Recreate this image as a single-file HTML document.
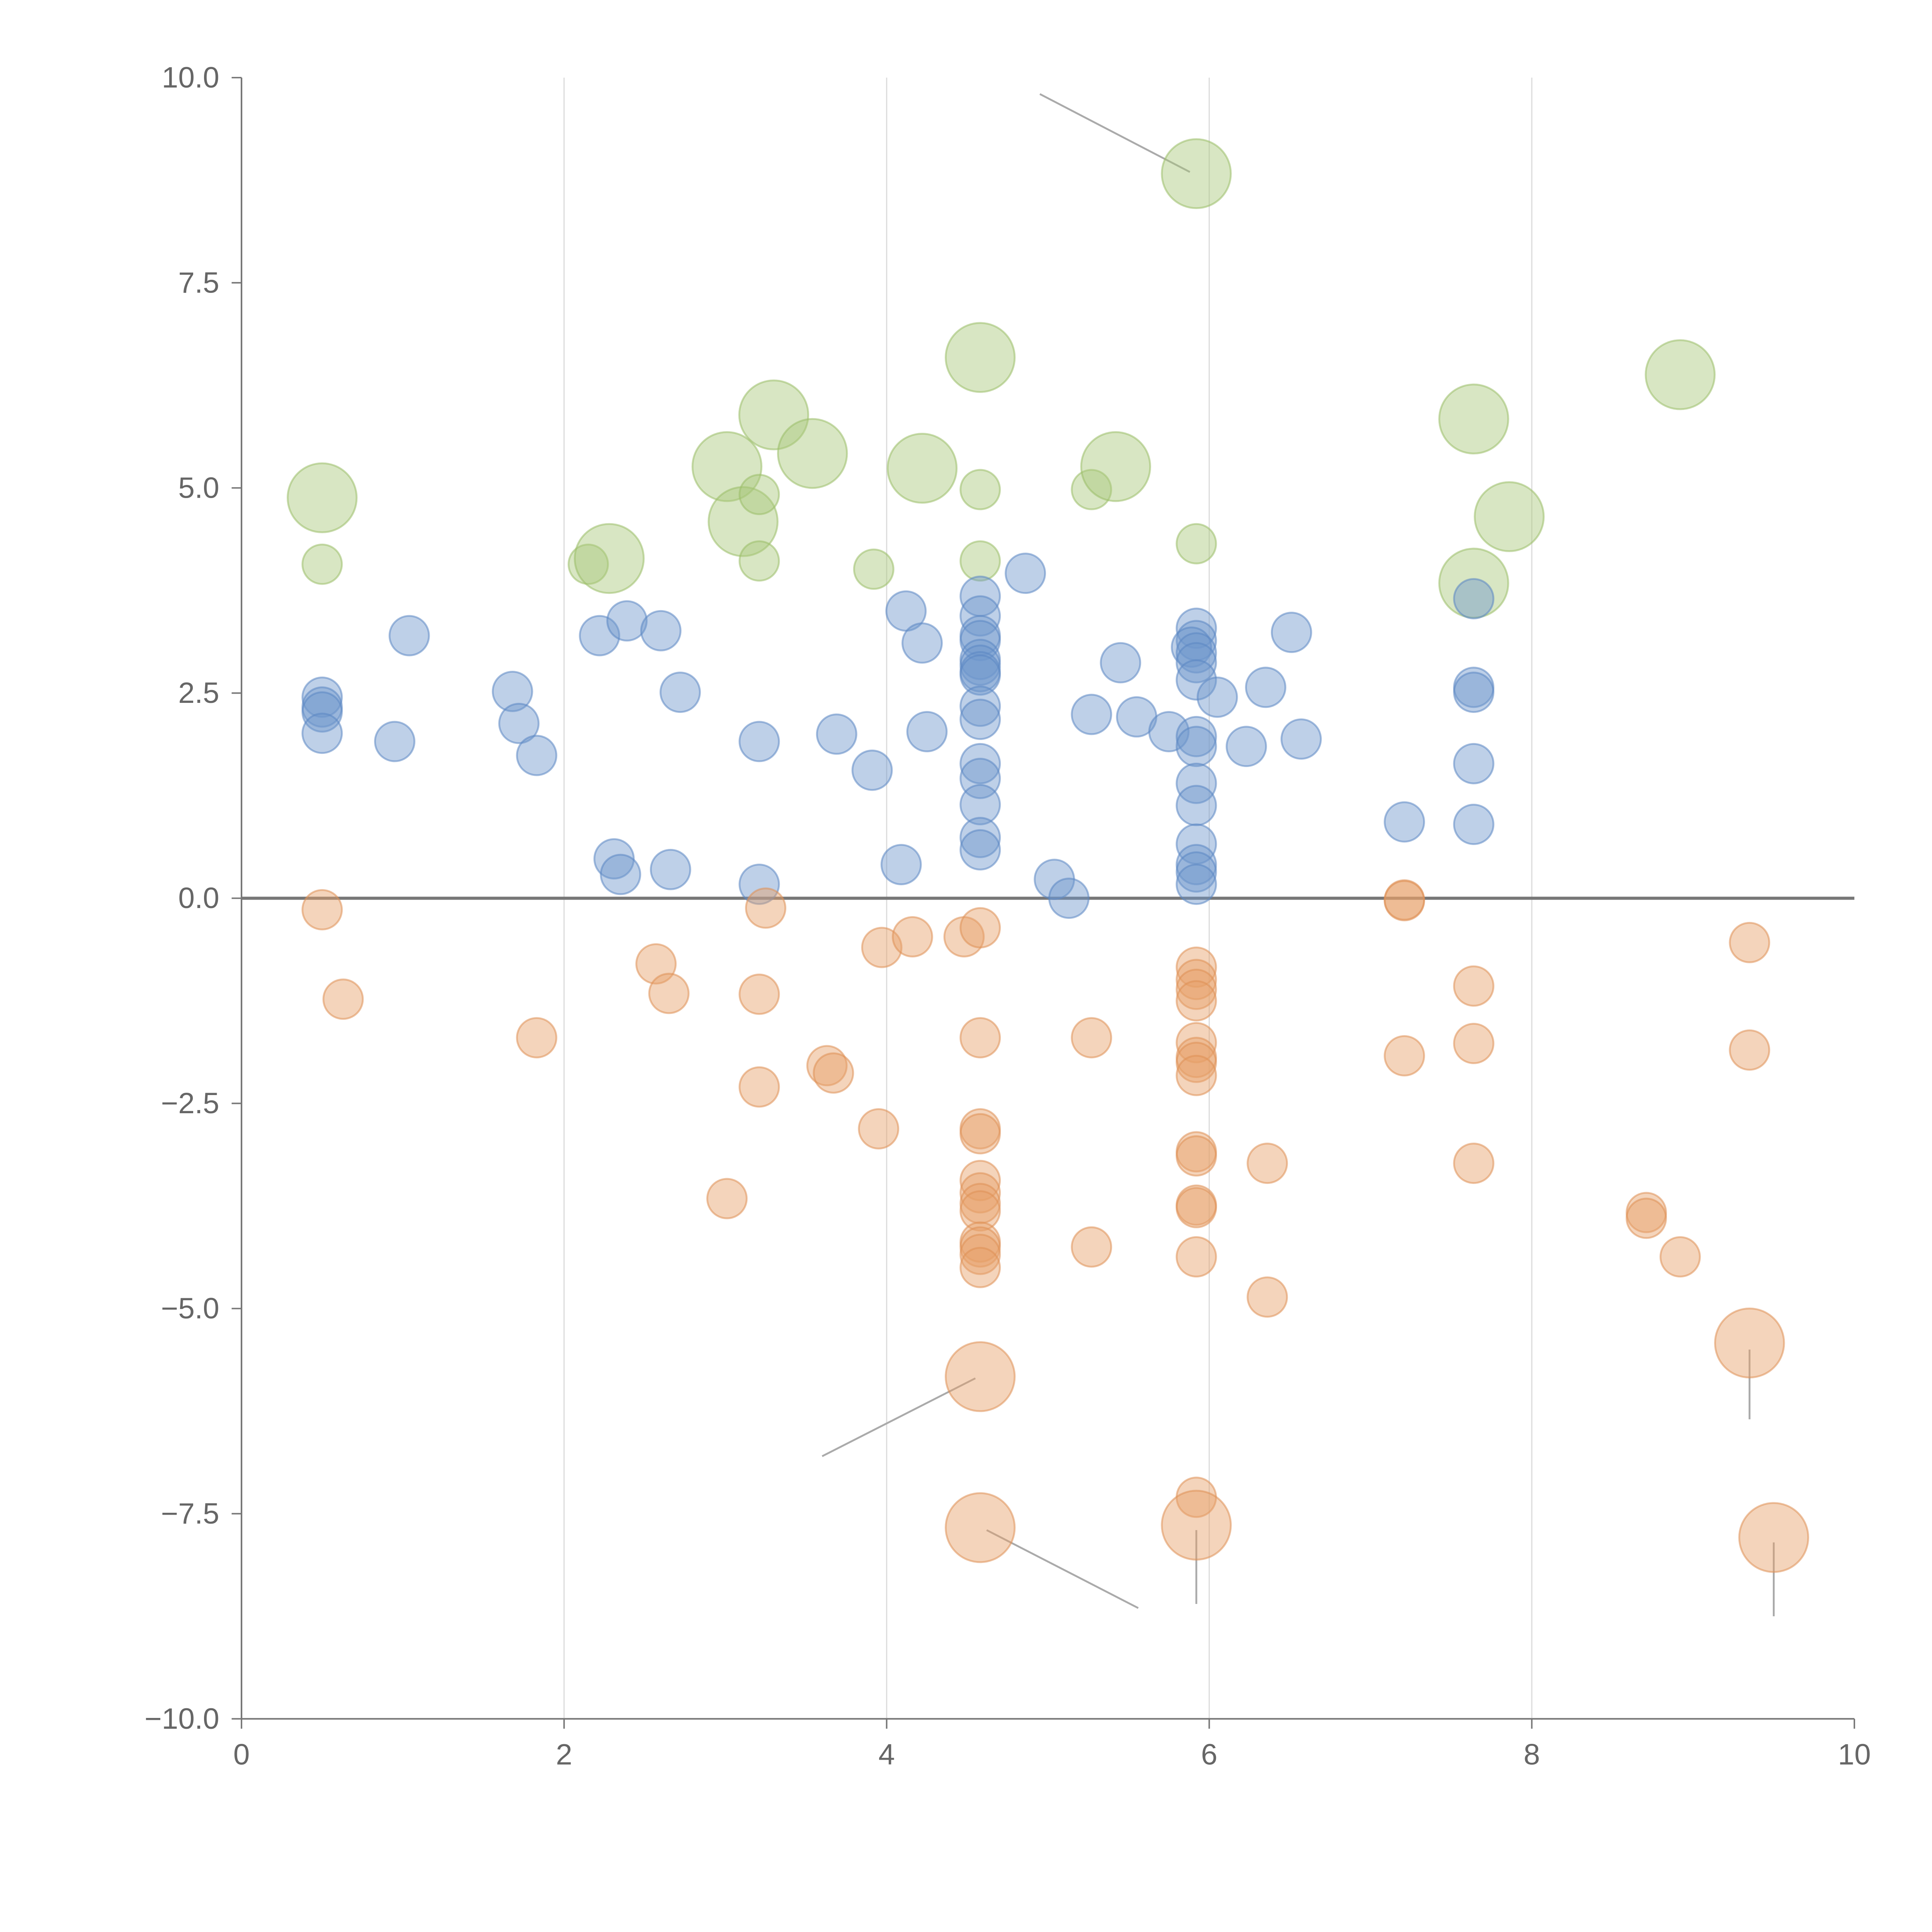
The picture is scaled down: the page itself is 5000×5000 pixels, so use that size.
<!DOCTYPE html>
<html><head><meta charset="utf-8"><style>
html,body{margin:0;padding:0;background:#fff;}
svg{display:block;}
text{font-family:"Liberation Sans",sans-serif;fill:#666;font-size:24px;}
</style></head><body>
<svg id="chart" width="5000" height="5000" viewBox="0 0 1568 1568" xmlns="http://www.w3.org/2000/svg">
<g id="grid"></g>
<g id="axes"></g>
<g id="annotations"></g>
<g id="marks"></g>
</svg>
<script>
const xTicks=[0,2,4,6,8,10];
const yTicks=[-10,-7.5,-5,-2.5,0,2.5,5,7.5,10];
const yTickLabels=["\u221210.0","\u22127.5","\u22125.0","\u22122.5","0.0","2.5","5.0","7.5","10.0"];
const blueX=[0.50,0.50,0.50,0.50,0.95,1.04,1.68,1.72,1.83,2.22,2.39,2.60,2.72,2.31,2.35,2.66,3.21,3.21,3.69,3.91,4.09,4.12,4.22,4.25,4.86,4.58,4.58,4.58,4.58,4.58,4.58,4.58,4.58,4.58,4.58,4.58,4.58,4.58,4.58,4.58,5.04,5.13,5.27,5.45,5.55,5.75,5.92,5.92,5.89,5.92,5.92,5.92,5.92,5.92,5.92,5.92,5.92,5.92,5.92,5.92,6.05,6.23,6.35,6.51,6.57,7.21,7.64,7.64,7.64,7.64,7.64];
const blueY=[2.45,2.33,2.27,2.01,1.91,3.20,2.52,2.13,1.74,3.20,3.38,3.26,2.51,0.48,0.29,0.35,1.91,0.17,2.00,1.56,0.41,3.50,3.11,2.03,3.96,3.68,3.44,3.20,3.14,2.91,2.84,2.76,2.72,2.34,2.18,1.64,1.46,1.14,0.74,0.59,0.23,0.00,2.24,2.87,2.21,2.03,3.29,3.14,3.06,2.99,2.87,2.66,1.97,1.85,1.40,1.13,0.66,0.41,0.32,0.17,2.45,1.85,2.57,3.24,1.94,0.93,3.65,2.57,2.51,1.64,0.90];
const orangeX=[0.50,0.63,1.83,2.57,2.65,3.21,3.21,3.25,3.01,3.63,3.67,3.95,3.97,4.16,4.48,4.58,4.58,4.58,4.58,4.58,4.58,4.58,4.58,4.58,4.58,4.58,4.58,4.58,4.58,5.27,5.27,5.92,5.92,5.92,5.92,5.92,5.92,5.92,5.92,5.92,5.92,5.92,5.92,5.92,5.92,5.92,6.36,6.36,7.21,7.21,7.21,7.64,7.64,7.64,8.71,8.71,8.92,9.35,9.35,9.35,9.50];
const orangeY=[-0.14,-1.23,-1.70,-0.80,-1.16,-1.17,-2.30,-0.12,-3.66,-2.04,-2.13,-2.81,-0.60,-0.47,-0.47,-0.36,-1.70,-2.81,-2.87,-3.44,-3.59,-3.72,-3.81,-4.19,-4.25,-4.34,-4.50,-5.83,-7.67,-1.70,-4.25,-0.84,-0.99,-1.11,-1.25,-1.76,-1.94,-2.00,-2.16,-3.09,-3.14,-3.74,-3.77,-4.37,-7.30,-7.64,-3.23,-4.86,-0.02,-0.03,-1.92,-1.07,-1.77,-3.23,-3.83,-3.90,-4.37,-0.54,-1.85,-5.42,-7.79];
const orangeS=[1,1,1,1,1,1,1,1,1,1,1,1,1,1,1,1,1,1,1,1,1,1,1,1,1,1,1,3,3,1,1,1,1,1,1,1,1,1,1,1,1,1,1,1,1,3,1,1,1,1,1,1,1,1,1,1,1,1,1,3,3];
const greenX=[0.50,0.50,2.15,2.28,3.01,3.11,3.21,3.21,3.30,3.54,3.92,4.22,4.58,4.58,4.58,5.27,5.42,5.92,5.92,7.64,7.64,7.86,8.92];
const greenY=[4.88,4.07,4.07,4.14,5.26,4.59,4.92,4.11,5.89,5.42,4.01,5.24,6.59,4.98,4.11,4.98,5.26,8.83,4.32,5.84,3.84,4.65,6.38];
const greenS=[3,1,1,3,3,3,1,1,3,3,1,3,3,1,1,1,3,3,1,3,3,3,3];
const leaders=[[4.95,9.8,5.88,8.85],[3.60,-6.80,4.55,-5.85],[4.62,-7.70,5.56,-8.65],[5.92,-7.70,5.92,-8.60],[9.35,-5.5,9.35,-6.35],[9.50,-7.85,9.50,-8.75]];
const NS="http://www.w3.org/2000/svg";
const X=v=>196+v*130.9, Y=v=>729-v*66.6;
function mk(tag,parent,attrs){const e=document.createElementNS(NS,tag);for(const k in attrs)e.setAttribute(k,attrs[k]);parent.appendChild(e);return e;}
const grid=document.getElementById('grid'),axes=document.getElementById('axes'),marks=document.getElementById('marks'),ann=document.getElementById('annotations');
xTicks.forEach(t=>{ if(t>0&&t<10){const l=mk('line',grid,{x1:X(t),x2:X(t),y1:Y(10),y2:Y(-10),stroke:'#ddd','stroke-width':1});

}
const tk=mk('line',axes,{x1:X(t),x2:X(t),y1:Y(-10),y2:Y(-10)+8,stroke:'#777','stroke-width':1.2});


const tx=mk('text',axes,{x:X(t),y:Y(-10)+37,'text-anchor':'middle'});tx.textContent=t;

});
yTicks.forEach((t,i)=>{const tk=mk('line',axes,{x1:X(0)-8,x2:X(0),y1:Y(t),y2:Y(t),stroke:'#777','stroke-width':1.2});


const tx=mk('text',axes,{x:X(0)-18,y:Y(t)+8,'text-anchor':'end'});tx.textContent=yTickLabels[i];

});
const xa=mk('line',axes,{x1:X(0),x2:X(10),y1:Y(-10),y2:Y(-10),stroke:'#777','stroke-width':1.3});


const ya=mk('line',axes,{x1:X(0),x2:X(0),y1:Y(10),y2:Y(-10),stroke:'#777','stroke-width':1.3});


const zl=mk('line',axes,{x1:X(0),x2:X(10),y1:Y(0),y2:Y(0),stroke:'#777','stroke-width':2.5});


leaders.forEach(a=>{const l=mk('line',ann,{x1:X(a[0]),y1:Y(a[1]),x2:X(a[2]),y2:Y(a[3]),stroke:'#aaa','stroke-width':1.5});

});
function draw(xs,ys,ss,fill,stroke,name){xs.forEach((x,i)=>{const r=(ss&&ss[i]===3)?28:16;
const c=mk('circle',marks,{cx:X(x),cy:Y(ys[i]),r:r,fill:fill,'fill-opacity':0.45,stroke:stroke,'stroke-opacity':0.55,'stroke-width':1.5});

});}
draw(greenX,greenY,greenS,'#a9c879','#9bbd68','bubble-positive-large');
draw(blueX,blueY,null,'#6f96cc','#5b86c2','bubble-positive');
draw(orangeX,orangeY,orangeS,'#e6a069','#df9055','bubble-negative');
</script>
</body></html>
